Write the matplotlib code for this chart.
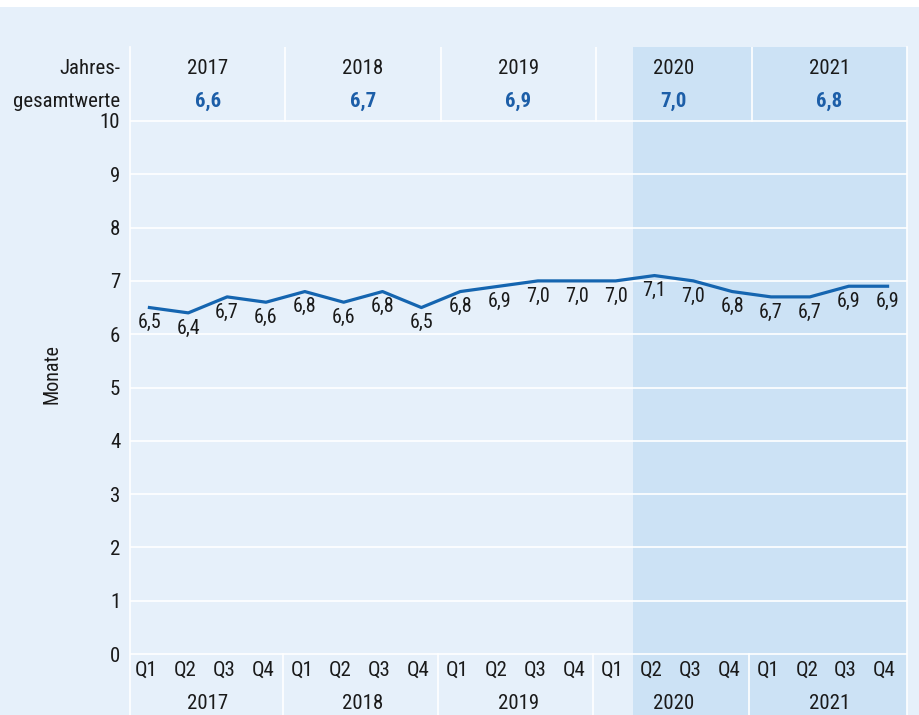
import matplotlib
matplotlib.use("Agg")
import matplotlib.pyplot as plt
from matplotlib.patches import Rectangle

plt.rcParams['font.family'] = ['Roboto Condensed', 'Liberation Sans', 'DejaVu Sans']

# data
quarters = ['Q1', 'Q2', 'Q3', 'Q4'] * 5
values = [6.5, 6.4, 6.7, 6.6, 6.8, 6.6, 6.8, 6.5, 6.8, 6.9,
          7.0, 7.0, 7.0, 7.1, 7.0, 6.8, 6.7, 6.7, 6.9, 6.9]
years = ['2017', '2018', '2019', '2020', '2021']
annual = ['6,6', '6,7', '6,9', '7,0', '6,8']

BG = '#e6f0fa'
SHADE = '#cce2f5'
LINE = '#1565b0'
VALBLUE = '#1c5ea8'
TXT = '#1a1a1a'
FS = 15

fig = plt.figure(figsize=(9.2, 7.15), dpi=100, facecolor=BG)
fig.patches.append(Rectangle((0, 1 - 7 / 715), 1, 7 / 715, transform=fig.transFigure,
                             facecolor='white', edgecolor='none', zorder=0))
ax = fig.add_axes([130 / 920, 0, 777 / 920, (715 - 47) / 715])
ax.set_facecolor(BG)

x = list(range(len(values)))
ax.set_xlim(-0.5, 19.5)
ax.set_ylim(-1.144, 11.388)

# shaded period (from Q2 2020)
ax.axvspan(12.45, 19.5, color=SHADE, zorder=0, lw=0)

# grid
for g in range(11):
    ax.axhline(g, color='white', lw=1.2, zorder=1)

# header and footer separators
for s in [3.5, 7.5, 11.5, 15.5]:
    ax.plot([s, s], [10, 11.388], color='white', lw=1.2, zorder=1)
    ax.plot([s - 0.07, s - 0.07], [-1.144, 0], color='white', lw=1.2, zorder=1)

ax.plot(x, values, color=LINE, lw=2.3, zorder=3)
for xi, v in zip(x, values):
    ax.annotate(f'{v:.1f}'.replace('.', ','), (xi, v), xytext=(0, -11),
                textcoords='offset points', ha='center', va='center',
                fontsize=FS - 0.5, color=TXT, zorder=4)

# header: annual values
centers = [1.5, 5.5, 9.5, 13.5, 17.5]
for c, yr, a in zip(centers, years, annual):
    ax.text(c, 10.98, yr, ha='center', va='center', fontsize=FS, color=TXT)
    ax.text(c, 10.36, a, ha='center', va='center', fontsize=FS,
            color=VALBLUE, fontweight='bold')
ax.annotate('Jahres-', (0, 10.98), xycoords=ax.get_yaxis_transform(),
            xytext=(-7, 0), textcoords='offset points', ha='right', va='center',
            fontsize=FS, color=TXT)
ax.annotate('gesamtwerte', (0, 10.36), xycoords=ax.get_yaxis_transform(),
            xytext=(-7, 0), textcoords='offset points', ha='right', va='center',
            fontsize=FS, color=TXT)

# footer: quarters and years
for xi, q in zip(x, quarters):
    ax.text(xi - 0.08, -0.30, q, ha='center', va='center', fontsize=FS, color=TXT)
for c, yr in zip(centers, years):
    ax.text(c, -0.92, yr, ha='center', va='center', fontsize=FS, color=TXT)

ax.set_yticks(range(11))
ax.set_yticklabels([str(i) for i in range(11)])
ax.set_xticks([])
ax.tick_params(axis='y', length=0, pad=7, labelsize=FS, labelcolor=TXT)
ax.set_ylabel('Monate', fontsize=FS - 0.5, color=TXT, labelpad=0)
ax.yaxis.set_label_coords(-0.088, 0.51)

for side in ['top', 'bottom']:
    ax.spines[side].set_visible(False)
for side in ['left', 'right']:
    ax.spines[side].set_color('white')
    ax.spines[side].set_linewidth(1.2)

fig.savefig('out.png', dpi=100, facecolor=BG)
